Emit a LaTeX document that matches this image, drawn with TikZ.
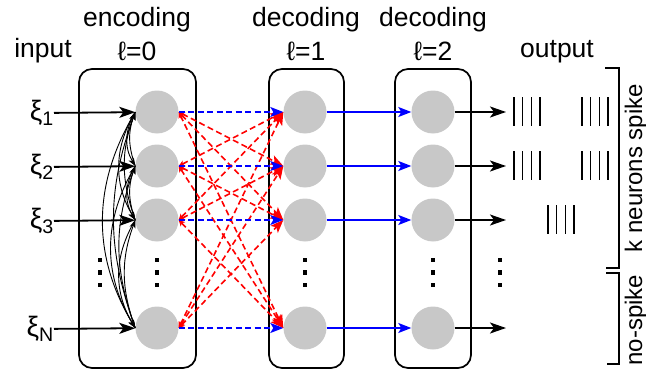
\documentclass[tikz,border=0pt]{standalone}
\usepackage{fontspec}
\setmainfont{Liberation Sans}
\usetikzlibrary{arrows.meta}
\definecolor{cellgray}{RGB}{200,200,200}

\begin{document}
\begin{tikzpicture}[x=1pt,y=-1pt,
 stage/.style={draw,line width=1.7pt,rounded corners=13pt,minimum width=#1,minimum height=299pt,inner sep=0},
 cell/.style={circle,fill=cellgray,minimum size=43pt,inner sep=0},
 lbl/.style={font=\fontsize{26.5}{30}\selectfont,inner sep=0,anchor=base},
 inp/.style={font=\fontsize{28}{30}\selectfont,inner sep=0,anchor=east},
 side/.style={font=\fontsize{24}{28}\selectfont,inner sep=0,rotate=90},
 feed/.style={line width=1.8pt,-{Stealth[length=16pt,width=11pt,inset=4pt]}},
 lat/.style={line width=0.9pt,-{Stealth[length=8pt,width=6pt,inset=2pt]}},
 fwd/.style={blue,line width=1.7pt,dash pattern=on 6pt off 3.5pt,-{Stealth[length=13pt,width=10pt,inset=3pt]}},
 cross/.style={red,line width=1.6pt,dash pattern=on 6pt off 3.5pt,{Stealth[length=6pt,width=6pt,inset=1.5pt]}-{Stealth[length=13pt,width=10pt,inset=3pt]}},
 pass/.style={blue,line width=1.7pt,-{Stealth[length=13pt,width=10pt,inset=3pt]}}]
\useasboundingbox (0,0) rectangle (646,372);
\node[stage=117pt] (box0) at (137.5,218.5) {};
\node[stage=75pt] (box1) at (306.5,218.5) {};
\node[stage=76pt] (box2) at (433,218.5) {};
\node[lbl] (enc) at (137,27) {encoding};
\node[lbl] (enc-l) at (137,60) {ℓ=0};
\node[lbl] (dec1) at (306,27) {decoding};
\node[lbl] (dec1-l) at (306,60) {ℓ=1};
\node[lbl] (dec2) at (433,27) {decoding};
\node[lbl] (dec2-l) at (433,60) {ℓ=2};
\node[lbl] (input) at (43,57) {input};
\node[lbl] (output) at (557,57) {output};
\foreach \i/\y/\s in {1/112/1,2/166/2,3/220/3,4/328/N}{
  \node[cell] (l0-\i) at (157,\y) {};
  \node[cell] (l1-\i) at (305,\y) {};
  \node[cell] (l2-\i) at (433,\y) {};
  \node[inp] (xi\i) at (54,\y+1) {ξ\textsubscript{\s}};
  \coordinate (o\i) at (506,\y);
}
\foreach \i in {1,...,4}{
  \draw[feed] (xi\i) -- (l0-\i);
  \foreach \j in {1,...,4}{
    \ifnum\i<\j \draw[lat] (l0-\i.west) to[bend right=31] (l0-\j.west);\fi
    \ifnum\i>\j \draw[lat] (l0-\i.west) to[bend left=20] (l0-\j.west);\fi
    \ifnum\i=\j\else \draw[cross] (l0-\i.east) -- (l1-\j.west);\fi
  }
}
\foreach \i in {1,...,4}{
  \draw[fwd] (l0-\i) -- (l1-\i);
  \draw[pass] (l1-\i) -- (l2-\i);
  \draw[feed] (l2-\i) -- (o\i);
}
\foreach \x in {100,157,305,433,500}
  \foreach \y in {260,272.5,285}
    \fill (\x-2.2,\y-2.2) rectangle ++(4.4,4.4);
\foreach \x/\y in {514/112,582/112,514/166,582/166,548/220}
  \foreach \k in {0,...,3}
    \draw[line width=1.4pt] (\x+8.7*\k,\y-15) -- ++(0,29);
\draw[line width=1.6pt] (605,68) -| (619,268) -- (606,268);
\draw[line width=1.6pt] (606,273) -| (619,364) -- (607,364);
\node[side] (spike) at (636,168) {k neurons spike};
\node[side] (nospike) at (636,320) {no-spike};
\end{tikzpicture}
\end{document}
